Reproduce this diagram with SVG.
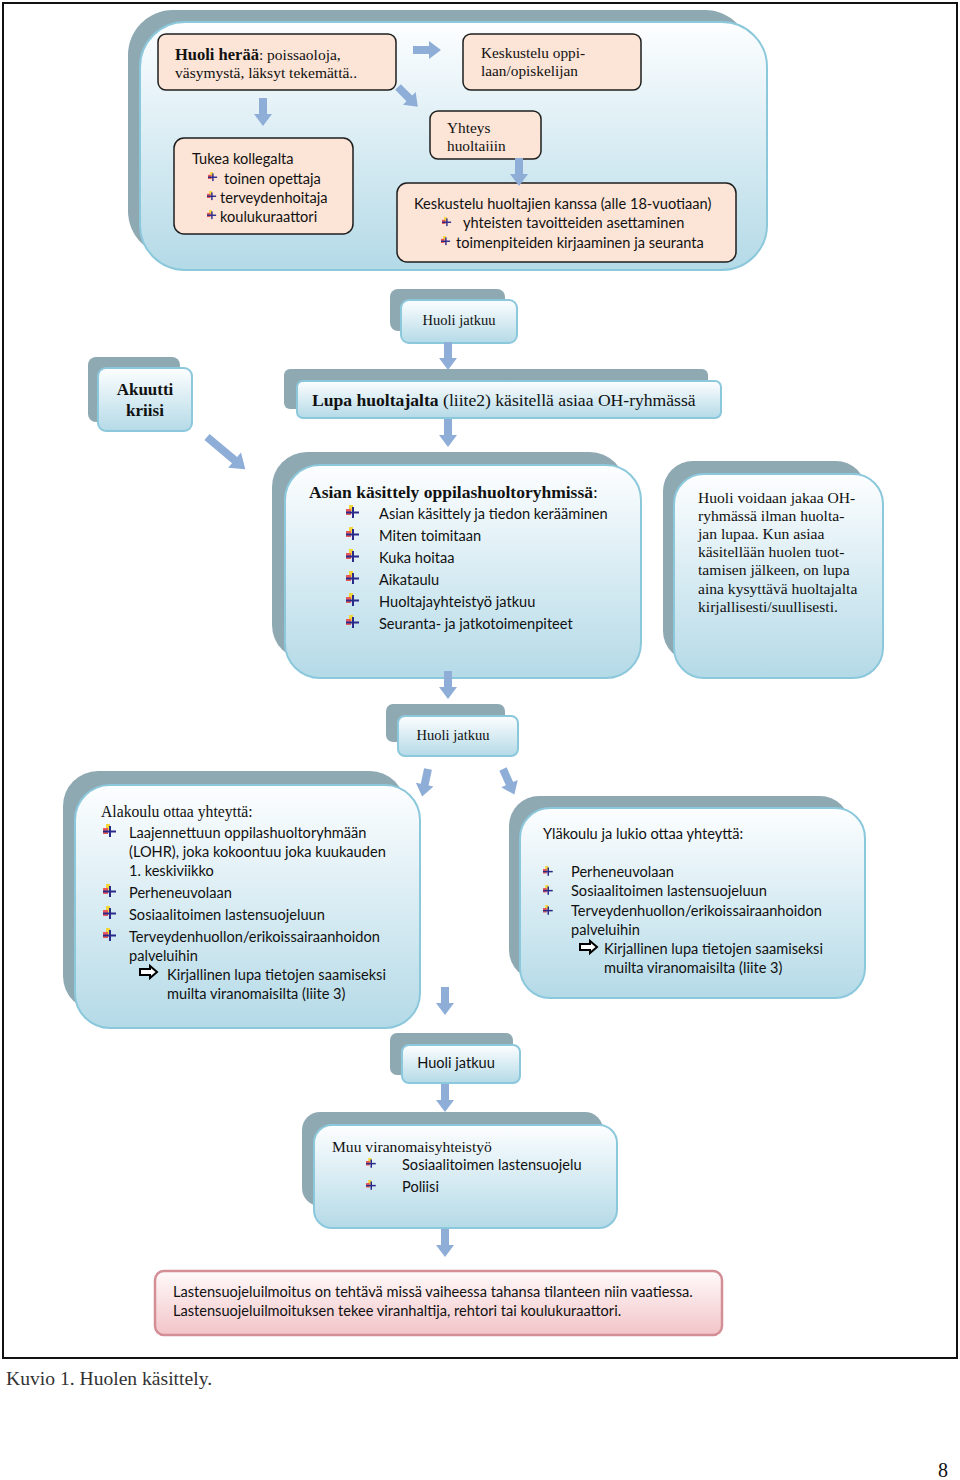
<svg xmlns="http://www.w3.org/2000/svg" width="960" height="1480" viewBox="0 0 960 1480">
<defs>
<linearGradient id="gb" x1="0" y1="0" x2="0" y2="1"><stop offset="0" stop-color="#fdfeff"/><stop offset="1" stop-color="#b4dae7"/></linearGradient>
<linearGradient id="gp" x1="0" y1="0" x2="0" y2="1"><stop offset="0" stop-color="#fffafa"/><stop offset="1" stop-color="#f2c4c8"/></linearGradient>
<path id="arr" d="M-4,0 H4 V16 H9 L0,28 L-9,16 H-4 Z"/>
<path id="arrL" d="M-4,0 H4 V36 H10 L0,50 L-10,36 H-4 Z"/>
<g id="bul">
<rect x="3" y="0" width="4" height="6" fill="#f5d63a"/>
<rect x="0" y="4" width="5" height="6" fill="#e85a5a"/>
<rect x="6" y="2" width="2" height="11" fill="#2a2a8a"/>
<rect x="0" y="6.5" width="13" height="2" fill="#2a2a8a"/>
</g>
<path id="hol" d="M0,3 H10 V0 L17,6 L10,12 V9 H0 Z" fill="#fff" stroke="#000" stroke-width="2"/>
<clipPath id="clipY"><rect x="430" y="111" width="111" height="40"/></clipPath>
</defs>
<style>
.back{fill:#8fa9b3}
.front{fill:url(#gb);stroke:#8cc8dc;stroke-width:2}
.peach{fill:#fce4d6;stroke:#1e1e1e;stroke-width:1.5}
.ar{fill:#8eaed8}
.se{font-family:"Liberation Serif",serif;fill:#111}
.sa{font-family:Lato,"Liberation Sans",sans-serif;fill:#111;font-size:14.6px}
</style>
<rect width="960" height="1480" fill="#fff"/>
<rect x="3" y="3" width="954" height="1355" fill="none" stroke="#111" stroke-width="2"/>

<g id="top-container">
<rect class="back" x="128" y="10" width="622" height="246" rx="45"/>
<rect class="front" x="140" y="22" width="627" height="248" rx="45"/>
</g>
<g id="huoli-heraa">
<rect class="peach" x="158" y="34" width="238" height="56" rx="8"/>
<text class="se" x="175" y="60" font-size="15.5"><tspan font-weight="bold" font-size="16.5">Huoli herää</tspan>: poissaoloja,</text>
<text class="se" x="175" y="78" font-size="15.5">väsymystä, läksyt tekemättä..</text>
</g>
<g id="keskustelu-oppilaan">
<rect class="peach" x="463" y="34" width="178" height="56" rx="8"/>
<text class="se" x="481" y="58" font-size="15.3">Keskustelu oppi-</text>
<text class="se" x="481" y="76" font-size="15.3">laan/opiskelijan</text>
</g>
<g id="tukea-kollegalta">
<rect class="peach" x="174" y="138" width="179" height="96" rx="10"/>
<text class="sa" x="192" y="164">Tukea kollegalta</text>
<use href="#bul" transform="translate(208,172) scale(0.7)"/>
<text class="sa" x="224" y="184">toinen opettaja</text>
<use href="#bul" transform="translate(207,191) scale(0.7)"/>
<text class="sa" x="220" y="203">terveydenhoitaja</text>
<use href="#bul" transform="translate(207,210) scale(0.7)"/>
<text class="sa" x="220" y="222">koulukuraattori</text>
</g>
<g id="yhteys-huoltajiin">
<rect class="peach" x="430" y="111" width="111" height="48" rx="8"/>
<g clip-path="url(#clipY)">
<text class="se" x="447" y="133" font-size="15.3">Yhteys</text>
<text class="se" x="447" y="151" font-size="15.3">huoltajiin</text>
</g>
</g>
<g id="keskustelu-huoltajien">
<rect class="peach" x="397" y="183" width="339" height="79" rx="10"/>
<text class="sa" x="414" y="209">Keskustelu huoltajien kanssa (alle 18-vuotiaan)</text>
<use href="#bul" transform="translate(442,217) scale(0.7)"/>
<text class="sa" x="463" y="228">yhteisten tavoitteiden asettaminen</text>
<use href="#bul" transform="translate(441,236) scale(0.7)"/>
<text class="sa" x="456" y="248">toimenpiteiden kirjaaminen ja seuranta</text>
</g>

<g id="huoli-jatkuu-1">
<rect class="back" x="390" y="289" width="115" height="42" rx="8"/>
<rect class="front" x="401" y="300" width="116" height="43" rx="8"/>
<text class="se" x="459" y="325" font-size="14.5" text-anchor="middle">Huoli jatkuu</text>
</g>
<g id="akuutti-kriisi">
<rect class="back" x="88" y="357" width="92" height="65" rx="8"/>
<rect class="front" x="98" y="368" width="94" height="63" rx="8"/>
<text class="se" x="145" y="395" font-size="17" font-weight="bold" text-anchor="middle">Akuutti</text>
<text class="se" x="145" y="416" font-size="17" font-weight="bold" text-anchor="middle">kriisi</text>
</g>
<g id="lupa-huoltajalta">
<rect class="back" x="284" y="369" width="424" height="40" rx="6"/>
<rect class="front" x="297" y="381" width="424" height="37" rx="6"/>
<text class="se" x="312" y="406" font-size="17.6"><tspan font-weight="bold">Lupa huoltajalta</tspan> (liite2) käsitellä asiaa OH-ryhmässä</text>
</g>

<g id="asian-kasittely">
<rect class="back" x="272" y="452" width="353" height="208" rx="35"/>
<rect class="front" x="285" y="465" width="356" height="213" rx="35"/>
<text class="se" x="309" y="498" font-size="17.5"><tspan font-weight="bold">Asian käsittely oppilashuoltoryhmissä</tspan>:</text>
<use href="#bul" transform="translate(346,505)"/>
<text class="sa" x="379" y="519">Asian käsittely ja tiedon kerääminen</text>
<use href="#bul" transform="translate(346,527)"/>
<text class="sa" x="379" y="541">Miten toimitaan</text>
<use href="#bul" transform="translate(346,549)"/>
<text class="sa" x="379" y="563">Kuka hoitaa</text>
<use href="#bul" transform="translate(346,571)"/>
<text class="sa" x="379" y="585">Aikataulu</text>
<use href="#bul" transform="translate(346,593)"/>
<text class="sa" x="379" y="607">Huoltajayhteistyö jatkuu</text>
<use href="#bul" transform="translate(346,615)"/>
<text class="sa" x="379" y="629">Seuranta- ja jatkotoimenpiteet</text>
</g>
<g id="huoli-voidaan">
<rect class="back" x="663" y="461" width="203" height="200" rx="30"/>
<rect class="front" x="674" y="474" width="209" height="204" rx="30"/>
<g class="se" font-size="15.6">
<text x="698" y="503">Huoli voidaan jakaa OH-</text>
<text x="698" y="521">ryhmässä ilman huolta-</text>
<text x="698" y="539">jan lupaa. Kun asiaa</text>
<text x="698" y="557">käsitellään huolen tuot-</text>
<text x="698" y="575">tamisen jälkeen, on lupa</text>
<text x="698" y="594">aina kysyttävä huoltajalta</text>
<text x="698" y="612">kirjallisesti/suullisesti.</text>
</g>
</g>

<g id="huoli-jatkuu-2">
<rect class="back" x="386" y="704" width="119" height="38" rx="7"/>
<rect class="front" x="398" y="716" width="120" height="40" rx="7"/>
<text class="se" x="453" y="740" font-size="14.5" text-anchor="middle">Huoli jatkuu</text>
</g>

<g id="alakoulu">
<rect class="back" x="63" y="771" width="342" height="240" rx="35"/>
<rect class="front" x="75" y="785" width="345" height="243" rx="35"/>
<text class="se" x="101" y="817" font-size="15.7">Alakoulu ottaa yhteyttä:</text>
<use href="#bul" transform="translate(103,824)"/>
<text class="sa" x="129" y="838">Laajennettuun  oppilashuoltoryhmään</text>
<text class="sa" x="129" y="857">(LOHR), joka kokoontuu joka kuukauden</text>
<text class="sa" x="129" y="876">1. keskiviikko</text>
<use href="#bul" transform="translate(103,884)"/>
<text class="sa" x="129" y="898">Perheneuvolaan</text>
<use href="#bul" transform="translate(103,906)"/>
<text class="sa" x="129" y="920">Sosiaalitoimen lastensuojeluun</text>
<use href="#bul" transform="translate(103,928)"/>
<text class="sa" x="129" y="942">Terveydenhuollon/erikoissairaanhoidon</text>
<text class="sa" x="129" y="961">palveluihin</text>
<use href="#hol" transform="translate(140,966)"/>
<text class="sa" x="167" y="980">Kirjallinen lupa tietojen saamiseksi</text>
<text class="sa" x="167" y="999">muilta viranomaisilta (liite 3)</text>
</g>
<g id="ylakoulu">
<rect class="back" x="509" y="796" width="341" height="184" rx="30"/>
<rect class="front" x="520" y="808" width="345" height="190" rx="30"/>
<text class="sa" x="543" y="839">Yläkoulu ja lukio ottaa yhteyttä:</text>
<use href="#bul" transform="translate(543,866) scale(0.75)"/>
<text class="sa" x="571" y="877">Perheneuvolaan</text>
<use href="#bul" transform="translate(543,885) scale(0.75)"/>
<text class="sa" x="571" y="896">Sosiaalitoimen lastensuojeluun</text>
<use href="#bul" transform="translate(543,905) scale(0.75)"/>
<text class="sa" x="571" y="916">Terveydenhuollon/erikoissairaanhoidon</text>
<text class="sa" x="571" y="935">palveluihin</text>
<use href="#hol" transform="translate(580,941)"/>
<text class="sa" x="604" y="954">Kirjallinen lupa tietojen saamiseksi</text>
<text class="sa" x="604" y="973">muilta viranomaisilta (liite 3)</text>
</g>

<g id="huoli-jatkuu-3">
<rect class="back" x="390" y="1033" width="123" height="42" rx="7"/>
<rect class="front" x="402" y="1045" width="118" height="38" rx="7"/>
<text class="sa" x="456" y="1068" text-anchor="middle">Huoli jatkuu</text>
</g>
<g id="muu-viranomaisyhteistyo">
<rect class="back" x="302" y="1112" width="301" height="94" rx="18"/>
<rect class="front" x="314" y="1125" width="303" height="103" rx="18"/>
<text class="se" x="332" y="1152" font-size="15.6">Muu viranomaisyhteistyö</text>
<use href="#bul" transform="translate(366,1158) scale(0.75)"/>
<text class="sa" x="402" y="1170">Sosiaalitoimen lastensuojelu</text>
<use href="#bul" transform="translate(366,1180) scale(0.75)"/>
<text class="sa" x="402" y="1192">Poliisi</text>
</g>
<g id="lastensuojeluilmoitus">
<rect x="155" y="1271" width="567" height="64" rx="9" fill="url(#gp)" stroke="#d48f96" stroke-width="2.5"/>
<text class="sa" x="173" y="1297">Lastensuojeluilmoitus on tehtävä missä vaiheessa tahansa tilanteen niin vaatiessa.</text>
<text class="sa" x="173" y="1316">Lastensuojeluilmoituksen tekee viranhaltija, rehtori tai koulukuraattori.</text>
</g>

<g id="connectors" class="ar">
<use href="#arr" transform="translate(413,50) rotate(-90)"/>
<use href="#arr" transform="translate(398,87) rotate(-45)"/>
<use href="#arr" transform="translate(263,98)"/>
<use href="#arr" transform="translate(519,158)"/>
<use href="#arr" transform="translate(448,342)"/>
<use href="#arr" transform="translate(448,419)"/>
<use href="#arrL" transform="translate(207,437) rotate(-50)"/>
<use href="#arr" transform="translate(448,671)"/>
<use href="#arr" transform="translate(428,769) rotate(12)"/>
<use href="#arr" transform="translate(503,769) rotate(-24)"/>
<use href="#arr" transform="translate(445,987)"/>
<use href="#arr" transform="translate(445,1084)"/>
<use href="#arr" transform="translate(445,1229)"/>
</g>

<text class="se" x="6" y="1385" font-size="19.6" style="fill:#333">Kuvio 1. Huolen käsittely.</text>
<text class="se" x="938" y="1477" font-size="20">8</text>
</svg>
